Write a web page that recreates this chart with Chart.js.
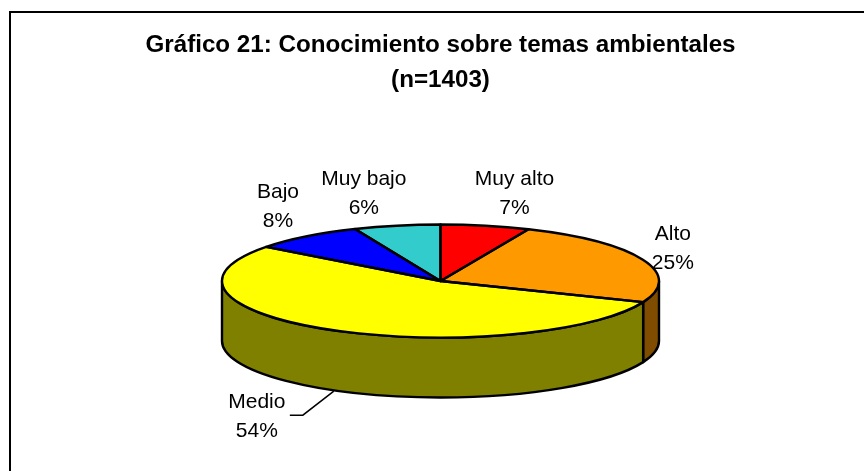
<!DOCTYPE html>
<html>
<head>
<meta charset="utf-8">
<script src="https://cdn.jsdelivr.net/npm/chart.js@4"></script>
<style>
  html, body { margin: 0; background: #fff; }
  canvas { display: block; }
</style>
</head>
<body>
<canvas id="chart" width="864" height="471"></canvas>
<script>
const titleLines = ["Gráfico 21: Conocimiento sobre temas ambientales", "(n=1403)"];
const categories = ["Muy alto", "Alto", "Medio", "Bajo", "Muy bajo"];
const shares = [6.6, 24.5, 54.2, 8.3, 6.4];
const sliceColors = ["#ff0000", "#ff9900", "#ffff00", "#0000ff", "#33cccc"];

const TILT = 0.2586;
const DEPTH = 60;
const FONT = "Liberation Sans, Arial, sans-serif";
const EDGE = 2.4;

// label centre relative to the rim point at the slice's mid angle
const labelShift = [[29, -32], [30, -11], [-76, 27], [-28, -30], [-33, -32]];

function halve(hex) {
    const n = parseInt(hex.slice(1), 16);
    const r = (n >> 16) >> 1, g = ((n >> 8) & 255) >> 1, b = (n & 255) >> 1;
    return `rgb(${r},${g},${b})`;
}

function arcProps(chart) {
    return chart.getDatasetMeta(0).data.map(a => a.getProps(["x", "y", "startAngle", "endAngle", "outerRadius"], true));
}

// Chart.js has no 3D pie, so squash the arcs and add walls and outlines
const pie3d = {
    id: "pie3d",
    beforeDraw(chart) {
        const ctx = chart.ctx;
        ctx.save();
        ctx.fillStyle = "#fff";
        ctx.fillRect(0, 0, chart.width, chart.height);
        ctx.strokeStyle = "#000";
        ctx.lineWidth = 2;
        ctx.beginPath();
        ctx.moveTo(10, chart.height);
        ctx.lineTo(10, 12);
        ctx.lineTo(chart.width, 12);
        ctx.stroke();
        ctx.restore();
    },
    beforeDatasetsDraw(chart) {
        const ctx = chart.ctx;
        const arcs = arcProps(chart);
        ctx.save();
        ctx.strokeStyle = "#000";
        ctx.lineWidth = EDGE;
        ctx.lineJoin = "round";
        arcs.forEach((a, i) => {
            const from = Math.max(a.startAngle, 0);
            const to = Math.min(a.endAngle, Math.PI);
            if (to <= from) return;
            const ry = a.outerRadius * TILT;
            ctx.beginPath();
            ctx.ellipse(a.x, a.y, a.outerRadius, ry, 0, from, to);
            ctx.ellipse(a.x, a.y + DEPTH, a.outerRadius, ry, 0, to, from, true);
            ctx.closePath();
            ctx.fillStyle = halve(sliceColors[i]);
            ctx.fill();
            ctx.stroke();
        });
        ctx.restore();

        const { x, y } = arcs[0];
        ctx.save();
        ctx.translate(x, y);
        ctx.scale(1, TILT);
        ctx.translate(-x, -y);
    },
    afterDatasetsDraw(chart) {
        const ctx = chart.ctx;
        ctx.restore();
        ctx.save();
        ctx.strokeStyle = "#000";
        ctx.lineWidth = EDGE;
        ctx.lineJoin = "round";
        arcProps(chart).forEach(a => {
            ctx.beginPath();
            ctx.moveTo(a.x, a.y);
            ctx.ellipse(a.x, a.y, a.outerRadius, a.outerRadius * TILT, 0, a.startAngle, a.endAngle);
            ctx.closePath();
            ctx.stroke();
        });
        ctx.restore();
    },
    afterDraw(chart) {
        const ctx = chart.ctx;
        ctx.save();
        ctx.fillStyle = "#000";
        ctx.strokeStyle = "#000";
        ctx.font = "21px " + FONT;
        ctx.textAlign = "center";
        ctx.textBaseline = "middle";
        arcProps(chart).forEach((a, i) => {
            const mid = (a.startAngle + a.endAngle) / 2;
            let px = a.x + a.outerRadius * Math.cos(mid);
            let py = a.y + a.outerRadius * TILT * Math.sin(mid);
            const front = Math.sin(mid) > 0.5;
            if (front) py += DEPTH;
            const lx = px + labelShift[i][0];
            const ly = py + labelShift[i][1];
            ctx.fillText(categories[i], lx, ly - 14.5);
            ctx.fillText(Math.round(shares[i]) + "%", lx, ly + 14.5);
            if (front) {
                ctx.lineWidth = 1.5;
                ctx.beginPath();
                ctx.moveTo(px + 1, py + 1);
                ctx.lineTo(px - 30, py + 25);
                ctx.lineTo(px - 43, py + 25);
                ctx.stroke();
            }
        });
        ctx.restore();
    }
};

new Chart(document.getElementById("chart"), {
    type: "pie",
    data: {
        labels: categories,
        datasets: [{
            data: shares,
            backgroundColor: sliceColors,
            borderWidth: 0,
            radius: 218.5
        }]
    },
    options: {
        responsive: false,
        animation: false,
        layout: { padding: { left: 17, top: 0, bottom: 7 } },
        plugins: {
            legend: { display: false },
            tooltip: { enabled: false },
            title: {
                display: true,
                text: titleLines,
                color: "#000",
                font: { family: FONT, size: 24.2, weight: "bold", lineHeight: 1.446 },
                padding: { top: 28, bottom: 0 }
            }
        }
    },
    plugins: [pie3d]
});
</script>
</body>
</html>
